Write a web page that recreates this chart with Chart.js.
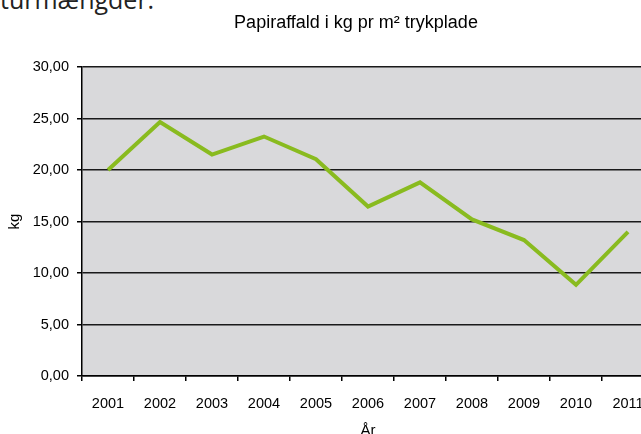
<!DOCTYPE html>
<html>
<head>
<meta charset="utf-8">
<script src="https://cdn.jsdelivr.net/npm/chart.js@4/dist/chart.umd.min.js"></script>
<style>
  html, body { margin: 0; padding: 0; background: #fff; overflow: hidden; width: 641px; height: 434px; }
  #wrap { position: absolute; left: 0; top: 0; width: 660px; height: 440px; }
  #above { position: absolute; left: 0; top: -13px; font: 25px "Open Sans", sans-serif; line-height: 24px; color: #222; white-space: nowrap; }
</style>
</head>
<body>
<div id="above">turmængder.</div>
<div id="wrap"><canvas id="paperChart" width="660" height="440"></canvas></div>
<script>
const years = ['2001', '2002', '2003', '2004', '2005', '2006', '2007', '2008', '2009', '2010', '2011'];
const kgPerPlate = [20.0, 24.65, 21.5, 23.25, 21.05, 16.45, 18.8, 15.2, 13.2, 8.85, 14.0];
const chartTitle = 'Papiraffald i kg pr m² trykplade';

const fontFamily = '"Liberation Sans", Arial, sans-serif';

// grå baggrund bag selve plotområdet + titel
const plotBackground = {
    id: 'plotBackground',
    beforeDraw(chart) {
        const { ctx, chartArea } = chart;
        ctx.save();
        ctx.fillStyle = '#d9d9db';
        ctx.fillRect(chartArea.left, chartArea.top, chartArea.right - chartArea.left, chartArea.bottom - chartArea.top);
        ctx.restore();
    },
    afterDraw(chart) {
        const { ctx } = chart;
        ctx.save();
        ctx.font = '18px ' + fontFamily;
        ctx.fillStyle = '#000';
        ctx.textAlign = 'center';
        ctx.textBaseline = 'middle';
        ctx.fillText(chartTitle, 356, 23);
        ctx.restore();
    }
};

const ctx = document.getElementById('paperChart').getContext('2d');

new Chart(ctx, {
    type: 'line',
    data: {
        labels: years,
        datasets: [{
            label: 'kg',
            data: kgPerPlate,
            borderColor: '#89bb1f',
            borderWidth: 4,
            pointRadius: 0,
            tension: 0,
            fill: false
        }]
    },
    options: {
        responsive: false,
        animation: false,
        layout: { padding: { top: 67, right: 6, left: 0, bottom: 0 } },
        plugins: {
            legend: { display: false },
            tooltip: { enabled: false }
        },
        scales: {
            x: {
                offset: true,
                grid: { offset: true, drawOnChartArea: false, drawTicks: true, tickLength: 5, color: '#000', lineWidth: 1.5 },
                border: { color: '#000', width: 1.5 },
                ticks: { color: '#000', font: { family: fontFamily, size: 14.5 }, padding: 14, maxRotation: 0, autoSkip: false },
                title: { display: true, text: 'År', color: '#000', font: { family: fontFamily, size: 15 }, padding: { top: 3, bottom: 0 } },
                afterFit(scale) { scale.height = 64; }
            },
            y: {
                min: 0,
                max: 30,
                grid: { color: '#1a1a1a', lineWidth: 1.5, tickLength: 5, tickColor: '#000' },
                border: { color: '#000', width: 1.5 },
                ticks: {
                    stepSize: 5,
                    color: '#000',
                    padding: 8,
                    font: { family: fontFamily, size: 14.5 },
                    callback: v => v.toFixed(2).replace('.', ',')
                },
                title: { display: true, text: 'kg', color: '#000', font: { family: fontFamily, size: 15 }, padding: { top: 6, bottom: 0 } },
                afterFit(scale) { scale.width = 82; }
            }
        }
    },
    plugins: [plotBackground]
});
</script>
</body>
</html>
